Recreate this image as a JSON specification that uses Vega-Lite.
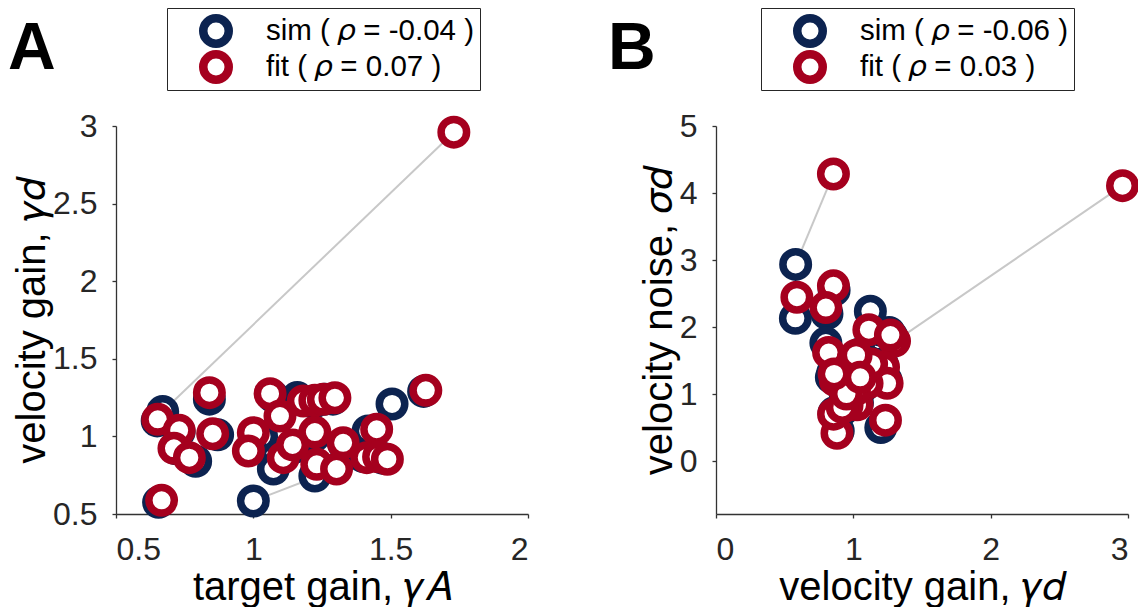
{
  "$schema": "https://vega.github.io/schema/vega-lite/v6.json",
  "padding": {"left": 8, "top": 7, "right": 0, "bottom": 0},
  "background": "white",
  "config": {
    "font": "Liberation Sans",
    "view": {"stroke": null},
    "axis": {"grid": false, "domainColor": "#333333", "tickColor": "#333333", "domainWidth": 1.3, "tickWidth": 1.3, "tickSize": 4, "labelFontSize": 32, "labelColor": "#262626", "titleFontSize": 40, "titleFontWeight": "normal", "titleColor": "#000000"},
    "axisX": {"labelPadding": 16, "titlePadding": 2},
    "axisY": {"labelPadding": 15, "titlePadding": 0},
    "legend": {"orient": "none", "direction": "vertical", "labelFontSize": 29.5, "labelColor": "#000000", "labelFont": "Liberation Sans", "symbolType": "circle", "symbolSize": 650, "symbolStrokeWidth": 8.5, "symbolFillColor": "white", "strokeColor": "#262626", "fillColor": "white", "padding": 6, "rowPadding": 2, "clipHeight": 34, "symbolOffset": 26, "labelOffset": 33, "labelLimit": 400}
  },
  "datasets": {
    "A": [
      {"id": 1, "type": "sim", "x": 0.67, "y": 1.16},
      {"id": 2, "type": "sim", "x": 0.65, "y": 1.10},
      {"id": 3, "type": "sim", "x": 0.73, "y": 1.03},
      {"id": 4, "type": "sim", "x": 0.72, "y": 0.92},
      {"id": 5, "type": "sim", "x": 0.79, "y": 0.84},
      {"id": 6, "type": "sim", "x": 0.84, "y": 1.24},
      {"id": 7, "type": "sim", "x": 0.87, "y": 1.01},
      {"id": 8, "type": "sim", "x": 0.655, "y": 0.575},
      {"id": 9, "type": "sim", "x": 1.03, "y": 1.0},
      {"id": 10, "type": "sim", "x": 0.99, "y": 0.92},
      {"id": 11, "type": "sim", "x": 1.07, "y": 1.26},
      {"id": 12, "type": "sim", "x": 1.11, "y": 1.2},
      {"id": 13, "type": "sim", "x": 1.073, "y": 0.79},
      {"id": 14, "type": "sim", "x": 1.22, "y": 1.0},
      {"id": 15, "type": "sim", "x": 1.224, "y": 0.745},
      {"id": 16, "type": "sim", "x": 1.16, "y": 1.25},
      {"id": 17, "type": "sim", "x": 1.22, "y": 1.22},
      {"id": 18, "type": "sim", "x": 1.26, "y": 1.24},
      {"id": 19, "type": "sim", "x": 1.29, "y": 1.24},
      {"id": 20, "type": "sim", "x": 1.0, "y": 0.584},
      {"id": 21, "type": "sim", "x": 1.33, "y": 0.95},
      {"id": 22, "type": "sim", "x": 1.4, "y": 0.87},
      {"id": 23, "type": "sim", "x": 1.505, "y": 1.209},
      {"id": 24, "type": "sim", "x": 1.418, "y": 1.035},
      {"id": 25, "type": "sim", "x": 1.47, "y": 0.86},
      {"id": 26, "type": "sim", "x": 1.62, "y": 1.29},
      {"id": 27, "type": "sim", "x": 1.15, "y": 0.93},
      {"id": 1, "type": "fit", "x": 1.73, "y": 2.96},
      {"id": 2, "type": "fit", "x": 0.652, "y": 1.11},
      {"id": 3, "type": "fit", "x": 0.73, "y": 1.039},
      {"id": 4, "type": "fit", "x": 0.711, "y": 0.923},
      {"id": 5, "type": "fit", "x": 0.767, "y": 0.863},
      {"id": 6, "type": "fit", "x": 0.84, "y": 1.282},
      {"id": 7, "type": "fit", "x": 0.852, "y": 1.017},
      {"id": 8, "type": "fit", "x": 0.666, "y": 0.588},
      {"id": 9, "type": "fit", "x": 1.0, "y": 1.024},
      {"id": 10, "type": "fit", "x": 0.982, "y": 0.906},
      {"id": 11, "type": "fit", "x": 1.061, "y": 1.275},
      {"id": 12, "type": "fit", "x": 1.097, "y": 1.131},
      {"id": 13, "type": "fit", "x": 1.109, "y": 0.863},
      {"id": 14, "type": "fit", "x": 1.224, "y": 1.028},
      {"id": 15, "type": "fit", "x": 1.231, "y": 0.82},
      {"id": 16, "type": "fit", "x": 1.182, "y": 1.228},
      {"id": 17, "type": "fit", "x": 1.224, "y": 1.233},
      {"id": 18, "type": "fit", "x": 1.255, "y": 1.239},
      {"id": 19, "type": "fit", "x": 1.297, "y": 1.249},
      {"id": 20, "type": "fit", "x": 1.303, "y": 0.79},
      {"id": 21, "type": "fit", "x": 1.327, "y": 0.959},
      {"id": 22, "type": "fit", "x": 1.413, "y": 0.863},
      {"id": 23, "type": "fit", "x": 1.449, "y": 1.046},
      {"id": 24, "type": "fit", "x": 1.456, "y": 0.869},
      {"id": 25, "type": "fit", "x": 1.488, "y": 0.853},
      {"id": 26, "type": "fit", "x": 1.628, "y": 1.297},
      {"id": 27, "type": "fit", "x": 1.143, "y": 0.945}
    ],
    "B": [
      {"id": 1, "type": "sim", "x": 1.16, "y": 1.585},
      {"id": 2, "type": "sim", "x": 0.58, "y": 2.935},
      {"id": 3, "type": "sim", "x": 0.578, "y": 2.13},
      {"id": 4, "type": "sim", "x": 0.86, "y": 2.55},
      {"id": 5, "type": "sim", "x": 0.808, "y": 2.2},
      {"id": 6, "type": "sim", "x": 0.8, "y": 1.76},
      {"id": 7, "type": "sim", "x": 1.124, "y": 2.235},
      {"id": 8, "type": "sim", "x": 1.28, "y": 1.86},
      {"id": 9, "type": "sim", "x": 1.26, "y": 1.92},
      {"id": 10, "type": "sim", "x": 1.07, "y": 1.4},
      {"id": 11, "type": "sim", "x": 1.21, "y": 1.45},
      {"id": 12, "type": "sim", "x": 1.24, "y": 1.2},
      {"id": 13, "type": "sim", "x": 0.84, "y": 1.25},
      {"id": 14, "type": "sim", "x": 1.03, "y": 0.87},
      {"id": 15, "type": "sim", "x": 1.2, "y": 0.5},
      {"id": 16, "type": "sim", "x": 0.89, "y": 0.45},
      {"id": 17, "type": "sim", "x": 0.86, "y": 0.72},
      {"id": 18, "type": "sim", "x": 0.98, "y": 1.5},
      {"id": 19, "type": "sim", "x": 0.96, "y": 0.86},
      {"id": 20, "type": "sim", "x": 1.08, "y": 1.13},
      {"id": 21, "type": "sim", "x": 1.12, "y": 1.47},
      {"id": 22, "type": "sim", "x": 1.05, "y": 1.6},
      {"id": 23, "type": "sim", "x": 1.0, "y": 1.0},
      {"id": 24, "type": "sim", "x": 0.93, "y": 0.78},
      {"id": 25, "type": "sim", "x": 0.94, "y": 1.02},
      {"id": 26, "type": "sim", "x": 1.04, "y": 1.27},
      {"id": 27, "type": "sim", "x": 0.85, "y": 1.32},
      {"id": 1, "type": "fit", "x": 2.96, "y": 4.11},
      {"id": 2, "type": "fit", "x": 0.855, "y": 4.284},
      {"id": 3, "type": "fit", "x": 0.589, "y": 2.445},
      {"id": 4, "type": "fit", "x": 0.855, "y": 2.615},
      {"id": 5, "type": "fit", "x": 0.8, "y": 2.29},
      {"id": 6, "type": "fit", "x": 0.82, "y": 1.62},
      {"id": 7, "type": "fit", "x": 1.113, "y": 1.96},
      {"id": 8, "type": "fit", "x": 1.3, "y": 1.79},
      {"id": 9, "type": "fit", "x": 1.27, "y": 1.88},
      {"id": 10, "type": "fit", "x": 1.088, "y": 1.43},
      {"id": 11, "type": "fit", "x": 1.22, "y": 1.4},
      {"id": 12, "type": "fit", "x": 1.246, "y": 1.16},
      {"id": 13, "type": "fit", "x": 0.869, "y": 1.2},
      {"id": 14, "type": "fit", "x": 1.027, "y": 0.84},
      {"id": 15, "type": "fit", "x": 1.234, "y": 0.61},
      {"id": 16, "type": "fit", "x": 0.881, "y": 0.415},
      {"id": 17, "type": "fit", "x": 0.856, "y": 0.7},
      {"id": 18, "type": "fit", "x": 1.0, "y": 1.53},
      {"id": 19, "type": "fit", "x": 0.954, "y": 0.83},
      {"id": 20, "type": "fit", "x": 1.1, "y": 1.16},
      {"id": 21, "type": "fit", "x": 1.133, "y": 1.45},
      {"id": 22, "type": "fit", "x": 1.02, "y": 1.58},
      {"id": 23, "type": "fit", "x": 1.008, "y": 1.05},
      {"id": 24, "type": "fit", "x": 0.92, "y": 0.8},
      {"id": 25, "type": "fit", "x": 0.95, "y": 1.0},
      {"id": 26, "type": "fit", "x": 1.05, "y": 1.25},
      {"id": 27, "type": "fit", "x": 0.86, "y": 1.3}
    ]
  },
  "spacing": 188,
  "bounds": "flush",
  "resolve": {"scale": {"stroke": "independent"}, "legend": {"stroke": "independent"}},
  "hconcat": [
    {
      "width": 412,
      "height": 388,
      "data": {"name": "A"},
      "title": {"text": "A", "anchor": "start", "frame": "group", "fontSize": 66, "fontWeight": "bold", "color": "#000000", "font": "Liberation Sans", "dx": -108, "dy": 67, "baseline": "alphabetic", "offset": -60},
      "layer": [
        {
          "mark": {"type": "line", "color": "#c8c8c8", "strokeWidth": 2},
          "encoding": {
            "x": {"field": "x", "type": "quantitative", "scale": {"domain": [0.5, 2], "nice": false, "zero": false}, "axis": {"title": "target gain, 𝛾𝐴", "values": [0.5, 1, 1.5, 2], "format": "~g"}},
            "y": {"field": "y", "type": "quantitative", "scale": {"domain": [0.5, 3], "nice": false, "zero": false}, "axis": {"title": "velocity gain, 𝛾𝑑", "values": [0.5, 1, 1.5, 2, 2.5, 3], "format": "~g"}},
            "detail": {"field": "id", "type": "nominal"}
          }
        },
        {
          "mark": {"type": "point", "shape": "circle", "filled": false, "fill": "white", "fillOpacity": 1, "opacity": 1, "strokeWidth": 7.5, "size": 650},
          "encoding": {
            "x": {"field": "x", "type": "quantitative"},
            "y": {"field": "y", "type": "quantitative"},
            "stroke": {"field": "type", "type": "nominal", "scale": {"domain": ["sim", "fit"], "range": ["#0c2350", "#a5001e"]}, "legend": {"title": null, "legendX": 51, "legendY": -118, "labelExpr": "datum.label == 'sim' ? 'sim ( 𝜌 = -0.04 )' : 'fit ( 𝜌 = 0.07 )'"}}
          }
        }
      ]
    },
    {
      "width": 412,
      "height": 388,
      "data": {"name": "B"},
      "title": {"text": "B", "anchor": "start", "frame": "group", "fontSize": 66, "fontWeight": "bold", "color": "#000000", "font": "Liberation Sans", "dx": -108, "dy": 67, "baseline": "alphabetic", "offset": -60},
      "layer": [
        {
          "mark": {"type": "line", "color": "#c8c8c8", "strokeWidth": 2},
          "encoding": {
            "x": {"field": "x", "type": "quantitative", "scale": {"domain": [0, 3], "nice": false, "zero": false}, "axis": {"title": "velocity gain, 𝛾𝑑", "values": [0, 1, 2, 3], "format": "~g"}},
            "y": {"field": "y", "type": "quantitative", "scale": {"domain": [-0.79, 5], "nice": false, "zero": false}, "axis": {"title": "velocity noise, 𝜎𝑑", "values": [0, 1, 2, 3, 4, 5], "format": "~g"}},
            "detail": {"field": "id", "type": "nominal"}
          }
        },
        {
          "mark": {"type": "point", "shape": "circle", "filled": false, "fill": "white", "fillOpacity": 1, "opacity": 1, "strokeWidth": 7.5, "size": 650},
          "encoding": {
            "x": {"field": "x", "type": "quantitative"},
            "y": {"field": "y", "type": "quantitative"},
            "stroke": {"field": "type", "type": "nominal", "scale": {"domain": ["sim", "fit"], "range": ["#0c2350", "#a5001e"]}, "legend": {"title": null, "legendX": 45, "legendY": -118, "labelExpr": "datum.label == 'sim' ? 'sim ( 𝜌 = -0.06 )' : 'fit ( 𝜌 = 0.03 )'"}}
          }
        }
      ]
    }
  ]
}
